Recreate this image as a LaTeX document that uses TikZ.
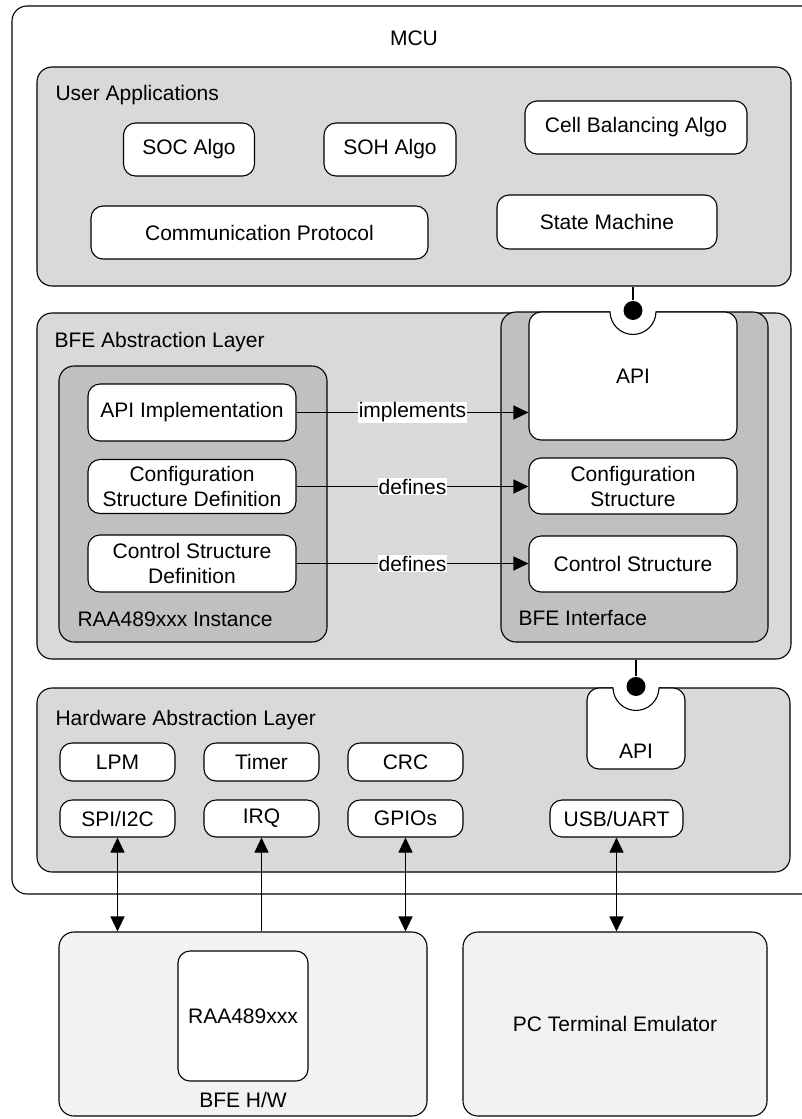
\documentclass[tikz,border=0pt]{standalone}
\usepackage{fontspec}
\setmainfont{Liberation Sans}
\usetikzlibrary{calc,arrows.meta}
\definecolor{layergray}{HTML}{D9D9D9}
\definecolor{innergray}{HTML}{C0C0C0}
\definecolor{hwgray}{HTML}{F2F2F2}
\def\blk{\node[draw=black,fill=white,rounded corners=12pt,align=center,inner sep=0pt]}
\def\layer{\node[draw=black,fill=layergray,rounded corners=15pt,inner sep=0pt]}
\def\ball{\node[circle,fill=black,inner sep=0pt,minimum size=19pt]}

\begin{document}
\begin{tikzpicture}[x=1pt,y=-1pt,line width=1.1pt,font=\fontsize{21}{25}\selectfont,
  oneway/.style={-{Triangle[length=15pt,width=14pt]}},
  twoway/.style={{Triangle[length=15pt,width=14pt]}-{Triangle[length=15pt,width=14pt]}},
  tag/.style={anchor=west,inner sep=0pt},
  says/.style={fill=white,inner sep=1pt,midway}]
\clip (0,0) rectangle (802,1119);

% MCU frame, open to the right
\draw[rounded corners=15pt] (12,6) rectangle (840,894);
\node (mcu) at (414,38) {MCU};

% User Applications
\layer (ua) at (414,176.5) [minimum width=754pt,minimum height=219pt] {};
\node[tag] (ualabel) at (55,95) {User Applications};
\blk (soc) at (189,149.5) [minimum width=131pt,minimum height=53pt] {SOC Algo};
\blk (soh) at (390,149.5) [minimum width=132pt,minimum height=53pt] {SOH Algo};
\blk (cell) at (636,127.5) [minimum width=222pt,minimum height=53pt] {Cell Balancing Algo};
\blk (comm) at (259.5,232.5) [minimum width=337pt,minimum height=53pt] {Communication Protocol};
\blk (state) at (607,222) [minimum width=220pt,minimum height=54pt] {State Machine};

% BFE Abstraction Layer
\layer (bfe) at (414,486) [minimum width=754pt,minimum height=346pt] {};
\node[tag] (bfelabel) at (54,342) {BFE Abstraction Layer};
\node[draw=black,fill=innergray,rounded corners=15pt,minimum width=268pt,minimum height=276pt] (inst) at (193,504) {};
\node[tag] (instlabel) at (77,619) {RAA489xxx Instance};
\blk (apiimpl) at (192,412.5) [minimum width=208pt,minimum height=57pt] {API Implementation};
\blk (cfgdef) at (192,486.5) [minimum width=208pt,minimum height=54pt] {Configuration\\Structure Definition};
\blk (ctrldef) at (192,563.5) [minimum width=208pt,minimum height=57pt] {Control Structure\\Definition};

\node[draw=black,fill=innergray,rounded corners=15pt,minimum width=267pt,minimum height=330pt] (iface) at (634.5,477) {};
\node[tag] (ifacelabel) at (518,618) {BFE Interface};
\blk (api) at (633,376) [minimum width=208pt,minimum height=128pt] {API};
\blk (cfg) at (633,486) [minimum width=208pt,minimum height=56pt] {Configuration\\Structure};
\blk (ctrl) at (633,564) [minimum width=208pt,minimum height=56pt] {Control Structure};

\draw[oneway] (apiimpl.east) -- (apiimpl.east -| api.west) node[says] {implements};
\draw[oneway] (cfgdef.east) -- (cfgdef.east -| cfg.west) node[says] {defines};
\draw[oneway] (ctrldef.east) -- (ctrldef.east -| ctrl.west) node[says] {defines};

% socket + ball between User Applications and API
\fill[white] ($(api.north)+(-23,-6)$) -- ($(api.north)+(-23,0)$) arc (180:0:23) -- ($(api.north)+(23,-6)$) -- cycle;
\draw ($(api.north)+(-23,0)$) arc (180:0:23);
\ball (ball1) at ($(api.north)+(0,-1)$) {};
\draw (ball1) -- (ball1 |- ua.south);

% Hardware Abstraction Layer
\layer (hal) at (413.5,780) [minimum width=753pt,minimum height=184pt] {};
\node[tag] (hallabel) at (55,720) {Hardware Abstraction Layer};
\blk (hapi) at (636,728.5) [minimum width=98pt,minimum height=81pt,text height=59pt,text depth=0pt] {API};
\blk (lpm) at (117.5,762) [minimum width=115pt,minimum height=38pt] {LPM};
\blk (timer) at (261.5,762) [minimum width=115pt,minimum height=38pt] {Timer};
\blk (crc) at (405.5,762) [minimum width=115pt,minimum height=38pt] {CRC};
\blk (spi) at (117.5,818.5) [minimum width=115pt,minimum height=37pt] {SPI/I2C};
\blk (irq) at (261.5,818.5) [minimum width=115pt,minimum height=37pt] {IRQ};
\blk (gpio) at (405.5,818.5) [minimum width=115pt,minimum height=37pt] {GPIOs};
\blk (usb) at (616.5,818.5) [minimum width=133pt,minimum height=37pt] {USB/UART};

% socket + ball between BFE layer and HAL API
\fill[white] ($(hapi.north)+(-23,-6)$) -- ($(hapi.north)+(-23,0)$) arc (180:0:23) -- ($(hapi.north)+(23,-6)$) -- cycle;
\draw ($(hapi.north)+(-23,0)$) arc (180:0:23);
\ball (ball2) at ($(hapi.north)+(0,-1)$) {};
\draw (ball2) -- (ball2 |- bfe.south);

% outside the MCU
\node[draw=black,fill=hwgray,rounded corners=15pt,minimum width=368pt,minimum height=184pt] (bfehw) at (243,1024) {};
\blk (raa) at (243,1016) [minimum width=130pt,minimum height=130pt] {RAA489xxx};
\node (hwlabel) at (243,1100) {BFE H/W};
\node[draw=black,fill=hwgray,rounded corners=15pt,minimum width=304pt,minimum height=184pt] (pc) at (615,1024) {PC Terminal Emulator};

\draw[twoway] (spi.south) -- (spi.south |- bfehw.north);
\draw[oneway] (irq.south |- bfehw.north) -- (irq.south);
\draw[twoway] (gpio.south) -- (gpio.south |- bfehw.north);
\draw[twoway] (usb.south) -- (usb.south |- pc.north);
\end{tikzpicture}
\end{document}
